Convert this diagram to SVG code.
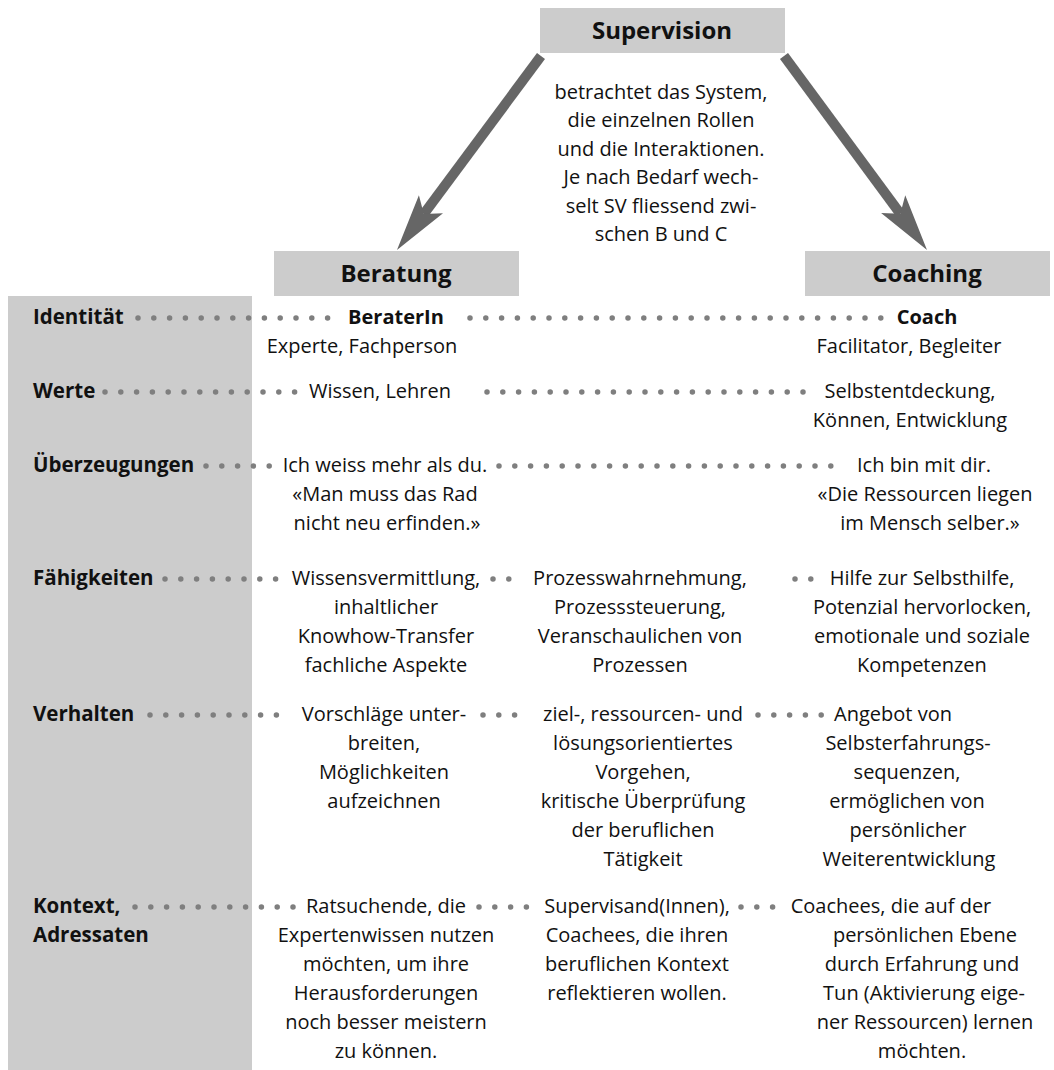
<svg xmlns="http://www.w3.org/2000/svg" width="1054" height="1070" viewBox="0 0 1054 1070">
<style>
.box{fill:#cccccc}
.hd{font-family:"Open Sans","Liberation Sans",sans-serif;font-weight:bold;font-size:24px;fill:#111;text-anchor:middle}
.lb{font-family:"Open Sans","Liberation Sans",sans-serif;font-weight:bold;font-size:20.5px;fill:#111}
.bd{font-family:"Open Sans","Liberation Sans",sans-serif;font-size:20px;fill:#111;text-anchor:middle}
.bb{font-family:"Open Sans","Liberation Sans",sans-serif;font-weight:bold;font-size:20px;fill:#111;text-anchor:middle}
.dots{stroke:#7f7f7f;stroke-width:5.5;stroke-linecap:round;stroke-dasharray:0 15.8;fill:none}
.arr{stroke:#666666;stroke-width:10;fill:none;marker-end:url(#head)}
</style>
<defs>
<marker id="head" markerUnits="userSpaceOnUse" orient="auto" refX="0" refY="0" markerWidth="80" markerHeight="40" viewBox="-15 -20 65 40" overflow="visible">
<path d="M45,0 L-12,-15 L0,0 L-12,15 Z" fill="#666666"/>
</marker>
</defs>
<rect id="column" class="box" x="8" y="296" width="244" height="774"/>
<g id="connectors">
<line class="arr" x1="541" y1="56" x2="423.8" y2="213.9"/>
<line class="arr" x1="784" y1="56" x2="900.3" y2="213.7"/>
<line class="dots" x1="138" y1="318" x2="336" y2="318"/>
<line class="dots" x1="470" y1="318" x2="884" y2="318"/>
<line class="dots" x1="105" y1="392" x2="306" y2="392"/>
<line class="dots" x1="487" y1="392" x2="806" y2="392"/>
<line class="dots" x1="206" y1="466" x2="272" y2="466"/>
<line class="dots" x1="499" y1="466" x2="838" y2="466"/>
<line class="dots" x1="165" y1="579" x2="283" y2="579"/>
<line class="dots" x1="493" y1="579" x2="510" y2="579"/>
<line class="dots" x1="795" y1="579" x2="812" y2="579"/>
<line class="dots" x1="150" y1="715" x2="284" y2="715"/>
<line class="dots" x1="483" y1="715" x2="516" y2="715"/>
<line class="dots" x1="758" y1="715" x2="822" y2="715"/>
<line class="dots" x1="135" y1="907" x2="294" y2="907"/>
<line class="dots" x1="479" y1="907" x2="527" y2="907"/>
<line class="dots" x1="741" y1="907" x2="774" y2="907"/>
</g>
<g id="supervision">
<rect class="box" x="540" y="8" width="245" height="45"/>
<text class="hd" x="662" y="39">Supervision</text>
</g>
<g id="supervision-text">
<text class="bd" x="661" y="99">betrachtet das System,</text>
<text class="bd" x="661" y="127">die einzelnen Rollen</text>
<text class="bd" x="661" y="156">und die Interaktionen.</text>
<text class="bd" x="661" y="184">Je nach Bedarf wech-</text>
<text class="bd" x="661" y="213">selt SV fliessend zwi-</text>
<text class="bd" x="661" y="241">schen B und C</text>
</g>
<g id="beratung">
<rect class="box" x="274" y="251" width="245" height="45"/>
<text class="hd" x="396" y="282">Beratung</text>
</g>
<g id="coaching">
<rect class="box" x="805" y="251" width="245" height="45"/>
<text class="hd" x="927" y="282">Coaching</text>
</g>
<g id="labels">
<text class="lb" x="33" y="324">Identität</text>
<text class="lb" x="33" y="398">Werte</text>
<text class="lb" x="33" y="472">Überzeugungen</text>
<text class="lb" x="33" y="585">Fähigkeiten</text>
<text class="lb" x="33" y="721">Verhalten</text>
<text class="lb" x="33" y="913">Kontext,</text>
<text class="lb" x="33" y="942">Adressaten</text>
</g>
<g id="row-identitaet">
<text class="bb" x="396" y="324">BeraterIn</text>
<text class="bb" x="927" y="324">Coach</text>
<text class="bd" x="362" y="353">Experte, Fachperson</text>
<text class="bd" x="909" y="353">Facilitator, Begleiter</text>
</g>
<g id="row-werte">
<text class="bd" x="380" y="398">Wissen, Lehren</text>
<text class="bd" x="910" y="398">Selbstentdeckung,</text>
<text class="bd" x="910" y="427">Können, Entwicklung</text>
</g>
<g id="row-ueberzeugungen">
<text class="bd" x="385" y="472">Ich weiss mehr als du.</text>
<text class="bd" x="385" y="501">«Man muss das Rad</text>
<text class="bd" x="387" y="530">nicht neu erfinden.»</text>
<text class="bd" x="924" y="472">Ich bin mit dir.</text>
<text class="bd" x="925" y="501">«Die Ressourcen liegen</text>
<text class="bd" x="930" y="530">im Mensch selber.»</text>
</g>
<g id="row-faehigkeiten">
<text class="bd" x="386" y="585">Wissensvermittlung,</text>
<text class="bd" x="386" y="614">inhaltlicher</text>
<text class="bd" x="386" y="643">Knowhow-Transfer</text>
<text class="bd" x="386" y="672">fachliche Aspekte</text>
<text class="bd" x="640" y="585">Prozesswahrnehmung,</text>
<text class="bd" x="640" y="614">Prozesssteuerung,</text>
<text class="bd" x="640" y="643">Veranschaulichen von</text>
<text class="bd" x="640" y="672">Prozessen</text>
<text class="bd" x="922" y="585">Hilfe zur Selbsthilfe,</text>
<text class="bd" x="922" y="614">Potenzial hervorlocken,</text>
<text class="bd" x="922" y="643">emotionale und soziale</text>
<text class="bd" x="922" y="672">Kompetenzen</text>
</g>
<g id="row-verhalten">
<text class="bd" x="384" y="721">Vorschläge unter-</text>
<text class="bd" x="384" y="750">breiten,</text>
<text class="bd" x="384" y="779">Möglichkeiten</text>
<text class="bd" x="384" y="808">aufzeichnen</text>
<text class="bd" x="643" y="721">ziel-, ressourcen- und</text>
<text class="bd" x="643" y="750">lösungsorientiertes</text>
<text class="bd" x="643" y="779">Vorgehen,</text>
<text class="bd" x="643" y="808">kritische Überprüfung</text>
<text class="bd" x="643" y="837">der beruflichen</text>
<text class="bd" x="643" y="866">Tätigkeit</text>
<text class="bd" x="893" y="721">Angebot von</text>
<text class="bd" x="908" y="750">Selbsterfahrungs-</text>
<text class="bd" x="907" y="779">sequenzen,</text>
<text class="bd" x="907" y="808">ermöglichen von</text>
<text class="bd" x="908" y="837">persönlicher</text>
<text class="bd" x="909" y="866">Weiterentwicklung</text>
</g>
<g id="row-kontext">
<text class="bd" x="386" y="913">Ratsuchende, die</text>
<text class="bd" x="386" y="942">Expertenwissen nutzen</text>
<text class="bd" x="386" y="971">möchten, um ihre</text>
<text class="bd" x="386" y="1000">Herausforderungen</text>
<text class="bd" x="386" y="1029">noch besser meistern</text>
<text class="bd" x="386" y="1058">zu können.</text>
<text class="bd" x="637" y="913">Supervisand(Innen),</text>
<text class="bd" x="637" y="942">Coachees, die ihren</text>
<text class="bd" x="637" y="971">beruflichen Kontext</text>
<text class="bd" x="637" y="1000">reflektieren wollen.</text>
<text class="bd" x="891" y="913">Coachees, die auf der</text>
<text class="bd" x="925" y="942">persönlichen Ebene</text>
<text class="bd" x="922" y="971">durch Erfahrung und</text>
<text class="bd" x="924" y="1000">Tun (Aktivierung eige-</text>
<text class="bd" x="925" y="1029">ner Ressourcen) lernen</text>
<text class="bd" x="922" y="1058">möchten.</text>
</g>
</svg>
